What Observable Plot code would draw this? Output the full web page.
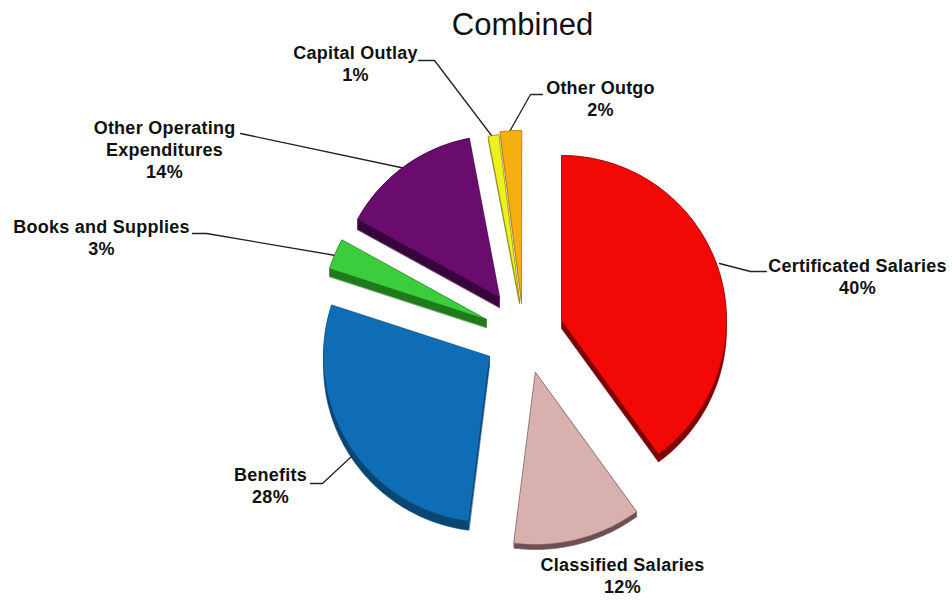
<!DOCTYPE html>
<html>
<head>
<meta charset="utf-8">
<script src="https://cdn.jsdelivr.net/npm/d3@7"></script>
<script src="https://cdn.jsdelivr.net/npm/@observablehq/plot@0.6"></script>
<style>
  html, body { margin: 0; background: #fff; }
  #title { height: 38px; width: 952px; padding-left: 93px; box-sizing: border-box;
           text-align: center; font: 31px/50px "Liberation Sans", sans-serif; color: #111; }
  svg { display: block; }
  svg text { letter-spacing: 0.25px; }
</style>
</head>
<body>
<div id="title">Combined</div>
<div id="chart"></div>
<script>
// Expenditure shares, clockwise from twelve o'clock
const categories = ["Certificated Salaries", "Classified Salaries", "Benefits", "Books and Supplies",
                    "Other Operating Expenditures", "Capital Outlay", "Other Outgo"];
const shares = [40, 12, 28, 3, 14, 1, 2];

const faceColors = ["#f20804", "#d8b0ae", "#0f6db6", "#3ccd3c", "#6a0c6e", "#f0f020", "#f5b010"];
const sideColors = ["#7c0204", "#6e5053", "#0a4674", "#1f7a1c", "#38043c", "#80800c", "#a0720c"];

// Exploded slice geometry: apex position, radius and extrusion depth
const apexX = [561, 535, 489, 486, 499, 519, 521];
const apexY = [320, 372, 356, 319, 297, 300, 301];
const radii = [165, 172, 166, 165, 162, 167, 171];
const depth = [8, 5, 9, 8, 10, 3, 2];

// Text placement and leader lines
const labelLines = [["Certificated Salaries"], ["Classified Salaries"], ["Benefits"], ["Books and Supplies"],
                    ["Other Operating", "Expenditures"], ["Capital Outlay"], ["Other Outgo"]];
const labelX = [857, 622, 270, 101, 164, 355, 600];
const labelY = [275.5, 574.5, 484.5, 236.5, 148.5, 62, 97.5];
const leaders = [
  [[766, 271], [750, 271], [719, 263]],
  [],
  [[310, 483], [322, 483], [351, 456]],
  [[192, 233], [206, 233], [335, 255]],
  [[240, 133], [405, 168]],
  [[418, 60], [434, 60], [491, 135]],
  [[542, 94], [530, 94], [508, 133]]
];

const total = d3.sum(shares);
const cumulative = d3.cumsum(shares);

// Outline of one slice, from its apex around the rim
function outline(i) {
  const start = (cumulative[i] - shares[i]) / total * 2 * Math.PI;
  const end = cumulative[i] / total * 2 * Math.PI;
  const steps = Math.max(2, Math.ceil((end - start) / 0.02));
  const pts = [[apexX[i], apexY[i]]];
  for (let k = 0; k <= steps; k++) {
    const a = start + (end - start) * k / steps;
    pts.push([apexX[i] + radii[i] * Math.sin(a), apexY[i] - radii[i] * Math.cos(a)]);
  }
  return pts;
}

const faces = categories.flatMap((name, i) =>
  outline(i).map(([x, y]) => ({name, x, y, color: faceColors[i], edge: sideColors[i]})));

// The extruded wall is the hull of the face and a copy shifted down by the depth
const sides = categories.flatMap((name, i) => {
  const pts = outline(i);
  const hull = d3.polygonHull(pts.concat(pts.map(([x, y]) => [x, y + depth[i]])));
  return hull.map(([x, y]) => ({name, x, y, color: sideColors[i]}));
});

const leaderPoints = leaders.flatMap((pts, i) => pts.map(([x, y]) => ({name: categories[i], x, y})));

const labels = categories.map((name, i) => ({
  text: labelLines[i].concat(`${shares[i]}%`).join("\n"), x: labelX[i], y: labelY[i]
}));

const chart = Plot.plot({
  width: 952,
  height: 562,
  margin: 0,
  x: {domain: [0, 952], range: [0, 952], axis: null},
  y: {domain: [38, 600], range: [0, 562], axis: null},
  style: {background: "transparent"},
  marks: [
    Plot.line(leaderPoints, {x: "x", y: "y", z: "name", stroke: "#222", strokeWidth: 1.3}),
    Plot.line(sides, {x: "x", y: "y", z: "name", fill: d => d.color, stroke: d => d.color,
                      strokeWidth: 0.6, curve: "linear-closed"}),
    Plot.line(faces, {x: "x", y: "y", z: "name", fill: d => d.color, stroke: d => d.edge,
                      strokeWidth: 0.6, strokeOpacity: 0.7, curve: "linear-closed"}),
    Plot.text(labels, {x: "x", y: "y", text: "text", fontFamily: "Liberation Sans, sans-serif",
                       fontWeight: "bold", fontSize: 18, lineHeight: 1.22, fill: "#111"})
  ]
});
document.getElementById("chart").append(chart);
</script>
</body>
</html>
